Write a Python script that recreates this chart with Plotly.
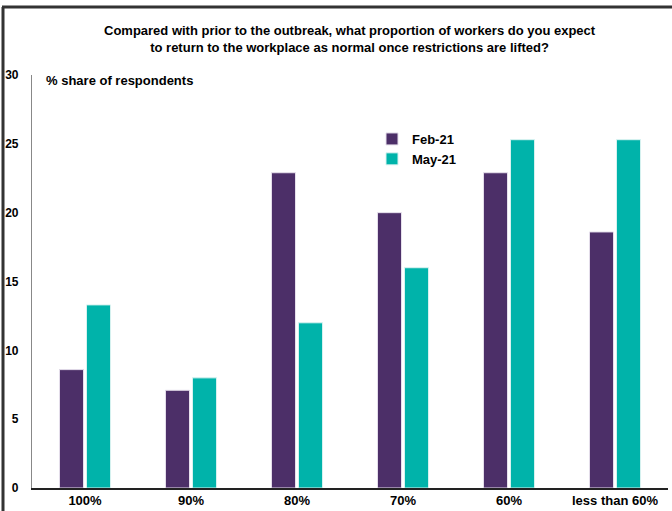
import plotly.graph_objects as go

categories = ["100%", "90%", "80%", "70%", "60%", "less than 60%"]
feb21 = [8.6, 7.1, 22.9, 20.0, 22.9, 18.6]
may21 = [13.3, 8.0, 12.0, 16.0, 25.3, 25.3]
yticks = [0, 5, 10, 15, 20, 25, 30]

PURPLE = "#4C2F68"
TEAL = "#00B3AA"
FONT = "Liberation Sans"

fig = go.Figure()
fig.add_trace(go.Bar(x=categories, y=feb21, name="<b>Feb-21</b>",
                     marker=dict(color=PURPLE, line=dict(color="#E6E0EC", width=1))))
fig.add_trace(go.Bar(x=categories, y=may21, name="<b>May-21</b>",
                     marker=dict(color=TEAL, line=dict(color="#D8F2F0", width=1))))

L, R, T, B = 32, 4, 75, 23
W, H = 672, 511
pw, ph = W - L - R, H - T - B

def px(x):
    return (x - L) / pw

def py(y):
    return (H - B - y) / ph

fig.update_layout(
    width=W, height=H,
    margin=dict(l=L, r=R, t=T, b=B, autoexpand=False),
    paper_bgcolor="white", plot_bgcolor="white",
    font=dict(family=FONT, size=12, color="#000000"),
    barmode="group", bargap=0.49, bargroupgap=0.11,
    showlegend=True,
    legend=dict(x=px(372), y=py(124), xanchor="left", yanchor="top",
                bgcolor="rgba(0,0,0,0)", font=dict(family=FONT, size=13, color="#000"),
                itemwidth=30, tracegroupgap=4),
    xaxis=dict(showline=True, linecolor="#222222", linewidth=1.5, ticks="",
               tickvals=categories, ticktext=[f"<b>{c}</b>" for c in categories],
               tickfont=dict(family=FONT, size=13, color="#000"),
               showgrid=False, zeroline=False),
    yaxis=dict(range=[0, 30], tickvals=yticks, ticktext=[f"<b>{v}</b>" for v in yticks],
               showline=True, linecolor="#888888",
               linewidth=1.2, ticks="", showgrid=False, zeroline=False,
               ticklabelstandoff=10,
               tickfont=dict(family=FONT, size=12, color="#000")),
    annotations=[
        dict(text="<b>Compared with prior to the outbreak, what proportion of workers do you expect<br>to return to the workplace as normal once restrictions are lifted?</b>",
             xref="paper", yref="paper", x=px(350), y=py(39), xanchor="center", yanchor="middle",
             showarrow=False, font=dict(family=FONT, size=13, color="#000")),
        dict(text="<b>% share of respondents</b>", xref="paper", yref="paper",
             x=px(44), y=py(80), xanchor="left", yanchor="middle", showarrow=False,
             font=dict(family=FONT, size=13, color="#000")),
    ],
    shapes=[
        dict(type="line", xref="paper", yref="paper", x0=px(3), x1=px(3), y0=py(7), y1=py(515),
             line=dict(color="#333333", width=3)),
        dict(type="line", xref="paper", yref="paper", x0=px(2), x1=px(680), y0=py(7), y1=py(7),
             line=dict(color="#333333", width=3)),
    ],
)

fig.write_html("out.html", config={"displayModeBar": False},
               post_script="document.body.style.margin='0';document.body.style.overflow='hidden';")
